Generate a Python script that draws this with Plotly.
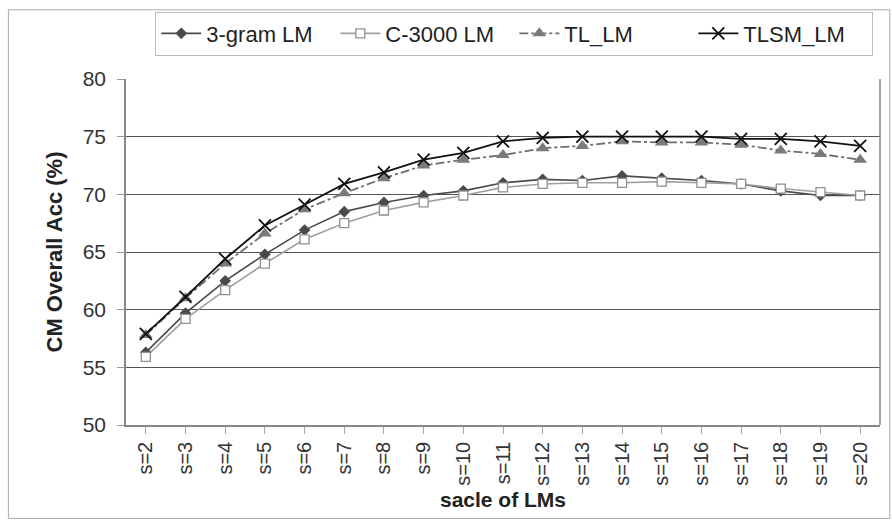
import plotly.graph_objects as go

categories = [f"s={i}" for i in range(2, 21)]
gram3 = [56.3, 59.7, 62.5, 64.8, 66.9, 68.5, 69.3, 69.9, 70.3, 71.0, 71.3, 71.2, 71.6, 71.4, 71.2, 70.9, 70.3, 69.9, 69.9]
c3000 = [55.9, 59.2, 61.7, 64.0, 66.1, 67.5, 68.6, 69.3, 69.9, 70.6, 70.9, 71.0, 71.0, 71.1, 71.0, 70.9, 70.5, 70.2, 69.9]
tl_lm = [57.8, 61.0, 64.0, 66.6, 68.7, 70.1, 71.4, 72.5, 73.0, 73.4, 74.0, 74.2, 74.6, 74.5, 74.5, 74.3, 73.8, 73.5, 73.0]
tlsm_lm = [57.9, 61.1, 64.4, 67.3, 69.1, 70.9, 71.9, 73.0, 73.6, 74.6, 74.9, 75.0, 75.0, 75.0, 75.0, 74.8, 74.8, 74.6, 74.2]

fig = go.Figure()
fig.add_trace(go.Scatter(x=categories, y=gram3, name="3-gram LM", mode="lines+markers",
                         line=dict(color="#4a4a4a", width=1.6),
                         marker=dict(symbol="diamond", size=9, color="#4a4a4a")))
fig.add_trace(go.Scatter(x=categories, y=c3000, name="C-3000 LM", mode="lines+markers",
                         line=dict(color="#a0a0a0", width=1.6),
                         marker=dict(symbol="square", size=9, color="white",
                                     line=dict(color="#909090", width=1.3))))
fig.add_trace(go.Scatter(x=categories, y=tl_lm, name="TL_LM", mode="lines+markers",
                         line=dict(color="#6e6e6e", width=1.8, dash="dashdot"),
                         marker=dict(symbol="triangle-up", size=12, color="#7a7a7a")))
fig.add_trace(go.Scatter(x=categories, y=tlsm_lm, name="TLSM_LM", mode="lines+markers",
                         line=dict(color="#111111", width=1.8),
                         marker=dict(symbol="x-thin", size=12, color="#111111",
                                     line=dict(color="#111111", width=1.8))))

fig.update_layout(
    width=892, height=524,
    margin=dict(l=126, r=12, t=75, b=99),
    plot_bgcolor="white", paper_bgcolor="white",
    font=dict(family="Liberation Sans, Arial, sans-serif", color="#222"),
    showlegend=True,
    legend=dict(orientation="h", x=0.515, xanchor="center", y=1.195, yanchor="top",
                bordercolor="#bbbbbb", borderwidth=1, font=dict(size=22),
                itemwidth=40, tracegroupgap=0, entrywidth=124),
    xaxis=dict(type="category", range=[-0.5, 18.5], tickangle=-90, tickfont=dict(size=20, color="#333"),
               title=dict(text="<b>sacle of LMs</b>", font=dict(size=21), standoff=8),
               showline=True, linecolor="#888", linewidth=1.5,
               ticks="outside", tickcolor="#aaa", ticklen=7, showgrid=False),
    yaxis=dict(range=[50, 80], dtick=5, tickfont=dict(size=21, color="#333"),
               ticklabelstandoff=7,
               title=dict(text="<b>CM Overall Acc (%)</b>", font=dict(size=22), standoff=14),
               showline=True, linecolor="#888", linewidth=1.5,
               ticks="outside", tickcolor="#999", ticklen=7,
               showgrid=True, gridcolor="#555", gridwidth=1, zeroline=False),
    shapes=[
        dict(type="line", xref="paper", yref="paper", x0=1, x1=1, y0=0, y1=1,
             line=dict(color="#888", width=1.5)),
        dict(type="rect", xref="paper", yref="paper", x0=-0.156, x1=1.013, y0=-0.27, y1=1.2,
             line=dict(color="#aaa", width=1)),
    ],
)

fig.write_html("out.html")
